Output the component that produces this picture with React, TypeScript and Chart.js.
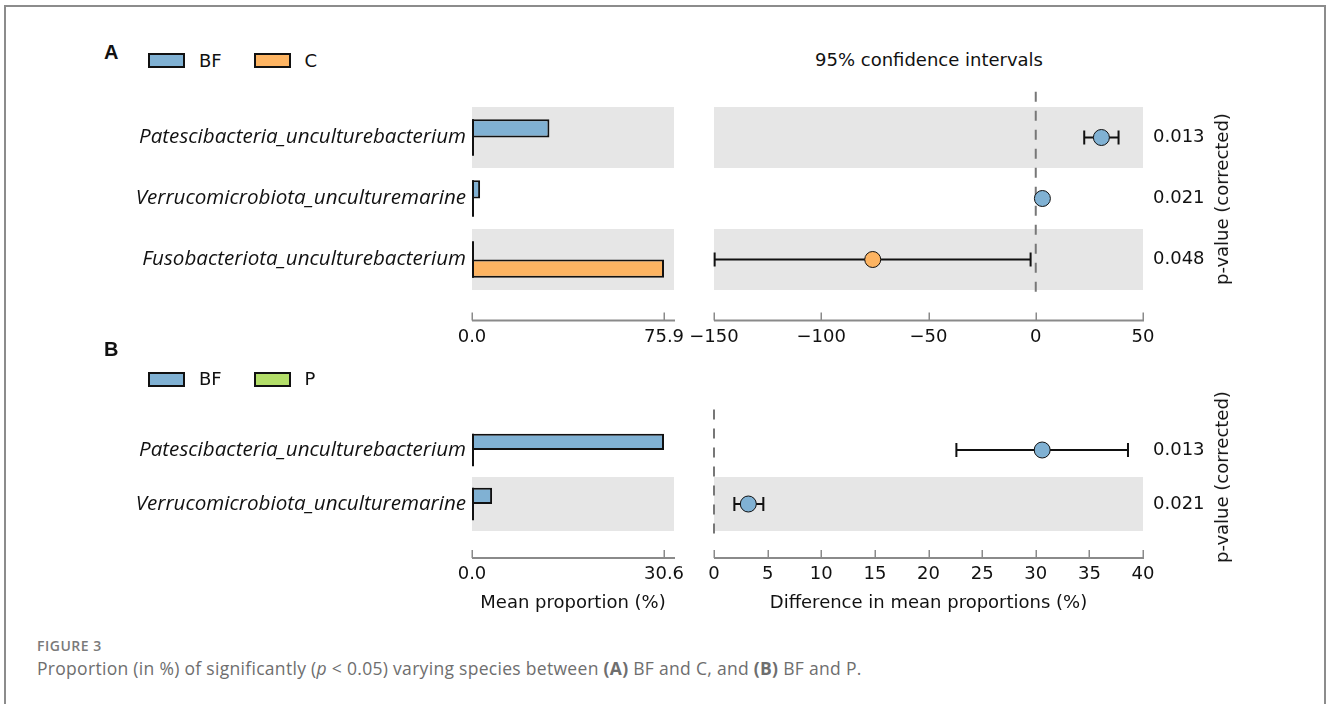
import React, { useEffect, useRef } from 'react';
import { Chart, registerables } from 'chart.js';

Chart.register(...registerables);

// ---------------- data ----------------
const groupsA = ['BF', 'C'];
const groupsB = ['BF', 'P'];

const speciesA = [
  'Patescibacteria_unculturebacterium',
  'Verrucomicrobiota_unculturemarine',
  'Fusobacteriota_unculturebacterium',
];
const meanBF_A = [30.6, 3.2, 0.04];
const meanC_A = [0.03, 0.02, 75.9];
const diffA = [30.6, 3.1, -76.0];
const ciLowA = [22.6, 1.9, -149.7];
const ciHighA = [38.6, 4.6, -2.4];
const pValuesA = ['0.013', '0.021', '0.048'];
const diffRangeA = [-150, 50];
const diffStepA = 50;

const speciesB = [
  'Patescibacteria_unculturebacterium',
  'Verrucomicrobiota_unculturemarine',
];
const meanBF_B = [30.6, 3.2];
const meanP_B = [0.03, 0.02];
const diffB = [30.6, 3.2];
const ciLowB = [22.6, 1.9];
const ciHighB = [38.6, 4.6];
const pValuesB = ['0.013', '0.021'];
const diffRangeB = [0, 40];
const diffStepB = 5;

// ---------------- styles ----------------
const COLORS: Record<string, string> = { BF: '#80b1d3', C: '#fdb462', P: '#b3de69' };
const BAND = '#e6e6e6';
const AXIS = '#8a8a8a';
const INK = '#111111';
const TICK_FONT = { family: "'DejaVu Sans'", size: 18 };
const LABEL_FONT = { family: "'Open Sans'", size: 20.6, style: 'italic' as const };

type Rect = { x: number; y: number; w: number; h: number };
type Area = { left: number; right: number; top: number; bottom: number };

const fmtMinus = (v: any) => {
  const n = Number(v);
  return n < 0 ? '\u2212' + Math.abs(n) : String(n);
};

function rowHeight(chart: any) {
  const a = chart.chartArea;
  const n = chart.scales.y.getLabels().length;
  return (a.bottom - a.top) / n;
}

const bandPlugin = {
  id: 'bands',
  beforeDatasetsDraw(chart: any) {
    const { ctx, chartArea: a, scales } = chart;
    const n = scales.y.getLabels().length;
    const rh = rowHeight(chart);
    ctx.save();
    ctx.fillStyle = BAND;
    for (let i = 0; i < n; i++) {
      if ((n - 1 - i) % 2 === 0) {
        const c = scales.y.getPixelForValue(i);
        ctx.fillRect(a.left, c - rh / 2, a.right - a.left, rh);
      }
    }
    ctx.restore();
  },
};

const offsetAxisPlugin = {
  id: 'offsetAxis',
  afterDraw(chart: any) {
    const { ctx, chartArea: a, scales } = chart;
    const yAx = a.bottom + rowHeight(chart) / 2;
    ctx.save();
    ctx.strokeStyle = AXIS;
    ctx.lineWidth = 2;
    ctx.beginPath();
    ctx.moveTo(a.left, yAx);
    ctx.lineTo(a.right + 1, yAx);
    ctx.stroke();
    ctx.lineWidth = 1.5;
    ctx.beginPath();
    scales.x.ticks.forEach((t: any) => {
      const x = Math.round(scales.x.getPixelForValue(t.value)) + 0.25;
      ctx.moveTo(x, yAx);
      ctx.lineTo(x, yAx - 8);
    });
    ctx.stroke();
    ctx.restore();
  },
};

const barBasePlugin = {
  id: 'barBase',
  afterDatasetsDraw(chart: any) {
    const { ctx } = chart;
    ctx.save();
    ctx.strokeStyle = INK;
    ctx.lineWidth = 2;
    ctx.beginPath();
    chart.data.datasets.forEach((_: any, di: number) => {
      chart.getDatasetMeta(di).data.forEach((el: any) => {
        const { base, y, height } = el.getProps(['base', 'y', 'height'], true);
        ctx.moveTo(base + 1, y - height / 2);
        ctx.lineTo(base + 1, y + height / 2);
      });
    });
    ctx.stroke();
    ctx.restore();
  },
};

function ciPlugin(lo: number[], hi: number[]) {
  return {
    id: 'ci',
    beforeDatasetsDraw(chart: any) {
      const { ctx, chartArea: a, scales } = chart;
      const rh = rowHeight(chart);
      // dashed zero line
      const x0 = scales.x.getPixelForValue(0);
      ctx.save();
      ctx.strokeStyle = '#777777';
      ctx.lineWidth = 2;
      ctx.setLineDash([10, 9]);
      ctx.beginPath();
      ctx.moveTo(x0, a.top - rh / 4);
      ctx.lineTo(x0, a.bottom + 3);
      ctx.stroke();
      ctx.setLineDash([]);
      // error bars
      ctx.strokeStyle = INK;
      ctx.lineWidth = 2;
      ctx.beginPath();
      lo.forEach((l, i) => {
        const y = scales.y.getPixelForValue(i);
        const xl = scales.x.getPixelForValue(l);
        const xh = scales.x.getPixelForValue(hi[i]);
        ctx.moveTo(xl, y);
        ctx.lineTo(xh, y);
        ctx.moveTo(xl, y - 7);
        ctx.lineTo(xl, y + 7);
        ctx.moveTo(xh, y - 7);
        ctx.lineTo(xh, y + 7);
      });
      ctx.stroke();
      ctx.restore();
    },
  };
}

function barConfig(
  labels: string[],
  groups: string[],
  series: number[][],
  canvas: Rect,
  area: Area,
  title?: string
) {
  const maxVal = Math.max(...series.flat());
  const rh = (area.bottom - area.top) / labels.length;
  return {
    type: 'bar',
    data: {
      labels,
      datasets: series.map((d, i) => ({
        label: groups[i],
        data: d,
        backgroundColor: COLORS[groups[i]],
        borderColor: INK,
        borderWidth: 2,
        borderSkipped: false,
        categoryPercentage: 0.6,
        barPercentage: 1,
      })),
    },
    options: {
      indexAxis: 'y',
      animation: false,
      responsive: false,
      events: [],
      layout: {
        padding: {
          left: 0,
          top: area.top - canvas.y,
          right: canvas.x + canvas.w - area.right,
          bottom: 0,
        },
      },
      plugins: { legend: { display: false }, tooltip: { enabled: false } },
      scales: {
        x: {
          type: 'linear',
          min: 0,
          max: maxVal * 1.052,
          grid: { display: false, drawTicks: true, tickLength: rh / 2 + 4 },
          border: { display: false },
          afterBuildTicks: (s: any) => {
            s.ticks = [0, maxVal].map((v) => ({ value: v }));
          },
          ticks: {
            padding: 2,
            color: INK,
            font: TICK_FONT,
            maxRotation: 0,
            autoSkip: false,
            callback: (v: any) => Number(v).toFixed(1),
          },
          title: {
            display: !!title,
            text: title || '',
            color: INK,
            font: TICK_FONT,
            padding: { top: 0, bottom: 6 },
          },
          afterFit: (s: any) => {
            s.height = canvas.y + canvas.h - area.bottom;
          },
        },
        y: {
          type: 'category',
          grid: { display: false, drawTicks: false },
          border: { display: false },
          ticks: { padding: 6, color: INK, font: LABEL_FONT, autoSkip: false },
          afterFit: (s: any) => {
            s.width = area.left - canvas.x;
          },
        },
      },
    },
    plugins: [bandPlugin, barBasePlugin, offsetAxisPlugin],
  };
}

function ciConfig(
  pvals: string[],
  groups: string[],
  diff: number[],
  lo: number[],
  hi: number[],
  range: number[],
  step: number,
  canvas: Rect,
  area: Area,
  title?: string
) {
  const rh = (area.bottom - area.top) / pvals.length;
  return {
    type: 'scatter',
    data: {
      datasets: [
        {
          data: diff.map((d, i) => ({ x: d, y: pvals[i] })),
          pointRadius: 8,
          pointHoverRadius: 8,
          pointBackgroundColor: diff.map((d) => (d >= 0 ? COLORS[groups[0]] : COLORS[groups[1]])),
          pointBorderColor: INK,
          pointBorderWidth: 1,
          clip: false,
        },
      ],
    },
    options: {
      animation: false,
      responsive: false,
      events: [],
      layout: {
        padding: { left: area.left - canvas.x, top: area.top - canvas.y, right: 0, bottom: 0 },
      },
      plugins: { legend: { display: false }, tooltip: { enabled: false } },
      scales: {
        x: {
          type: 'linear',
          min: range[0],
          max: range[1],
          grid: { display: false, drawTicks: true, tickLength: rh / 2 + 4 },
          border: { display: false },
          ticks: {
            stepSize: step,
            padding: 2,
            color: INK,
            font: TICK_FONT,
            maxRotation: 0,
            autoSkip: false,
            callback: fmtMinus,
          },
          title: {
            display: !!title,
            text: title || '',
            color: INK,
            font: TICK_FONT,
            padding: { top: 0, bottom: 6 },
          },
          afterFit: (s: any) => {
            s.height = canvas.y + canvas.h - area.bottom;
          },
        },
        y: {
          type: 'category',
          labels: pvals,
          position: 'right',
          offset: true,
          grid: { display: false, drawTicks: false },
          border: { display: false },
          ticks: { padding: 10, color: INK, font: TICK_FONT, autoSkip: false },
          afterFit: (s: any) => {
            s.width = canvas.x + canvas.w - area.right;
          },
        },
      },
    },
    plugins: [bandPlugin, ciPlugin(lo, hi), offsetAxisPlugin],
  };
}

function ChartBox({ rect, make }: { rect: Rect; make: () => any }) {
  const ref = useRef<HTMLCanvasElement>(null);
  useEffect(() => {
    const chart = new Chart(ref.current as HTMLCanvasElement, make());
    return () => chart.destroy();
  }, []);
  return (
    <canvas
      ref={ref}
      width={rect.w}
      height={rect.h}
      style={{ position: 'absolute', left: rect.x, top: rect.y, width: rect.w, height: rect.h }}
    />
  );
}

function Txt({
  x,
  y,
  anchor = 'start',
  style,
  children,
}: {
  x: number;
  y: number;
  anchor?: 'start' | 'middle' | 'end';
  style?: React.CSSProperties;
  children: React.ReactNode;
}) {
  const tx = anchor === 'middle' ? '-50%' : anchor === 'end' ? '-100%' : '0';
  return (
    <div
      style={{
        position: 'absolute',
        left: x,
        top: y,
        transform: `translate(${tx}, -50%)`,
        whiteSpace: 'nowrap',
        lineHeight: 1,
        fontFamily: "'DejaVu Sans'",
        fontSize: 18,
        color: INK,
        ...style,
      }}
    >
      {children}
    </div>
  );
}

function Legend({ y, groups }: { y: number; groups: string[] }) {
  return (
    <>
      {groups.map((g, i) => (
        <React.Fragment key={g}>
          <div
            style={{
              position: 'absolute',
              left: 148 + i * 105.5,
              top: y - 7.5,
              width: 37,
              height: 15,
              boxSizing: 'border-box',
              border: `2px solid ${INK}`,
              background: COLORS[g],
            }}
          />
          <Txt x={199 + i * 105.5} y={y}>
            {g}
          </Txt>
        </React.Fragment>
      ))}
    </>
  );
}

const rotTitle: React.CSSProperties = {
  position: 'absolute',
  left: 1222,
  whiteSpace: 'nowrap',
  lineHeight: 1,
  fontFamily: "'DejaVu Sans'",
  fontSize: 18,
  color: INK,
};

export default function App() {
  const areaA_L: Area = { left: 472, right: 674, top: 107, bottom: 290 };
  const areaA_R: Area = { left: 714, right: 1143, top: 107, bottom: 290 };
  const areaB_L: Area = { left: 472, right: 674, top: 423, bottom: 531 };
  const areaB_R: Area = { left: 714, right: 1143, top: 423, bottom: 531 };
  const cA_L: Rect = { x: 90, y: 80, w: 610, h: 290 };
  const cA_R: Rect = { x: 660, y: 75, w: 580, h: 295 };
  const cB_L: Rect = { x: 90, y: 396, w: 610, h: 224 };
  const cB_R: Rect = { x: 660, y: 395, w: 580, h: 225 };

  return (
    <div
      style={{
        position: 'fixed',
        left: 0,
        top: 0,
        width: 1328,
        height: 704,
        overflow: 'hidden',
        background: '#ffffff',
      }}
    >
      <div
        style={{
          position: 'absolute',
          left: 4,
          top: 5,
          width: 1322,
          height: 720,
          boxSizing: 'border-box',
          border: '2px solid #8c8c8c',
        }}
      />

      {/* Panel A */}
      <Txt x={104} y={52} style={{ fontFamily: "'Liberation Sans'", fontWeight: 700, fontSize: 20 }}>
        A
      </Txt>
      <Legend y={60.5} groups={groupsA} />
      <Txt x={929} y={60} anchor="middle">
        95% confidence intervals
      </Txt>
      <ChartBox
        rect={cA_L}
        make={() => barConfig(speciesA, groupsA, [meanBF_A, meanC_A], cA_L, areaA_L)}
      />
      <ChartBox
        rect={cA_R}
        make={() =>
          ciConfig(pValuesA, groupsA, diffA, ciLowA, ciHighA, diffRangeA, diffStepA, cA_R, areaA_R)
        }
      />
      <div style={{ ...rotTitle, top: 198.5, transform: 'translate(-50%, -50%) rotate(-90deg)' }}>
        p-value (corrected)
      </div>

      {/* Panel B */}
      <Txt x={104} y={349} style={{ fontFamily: "'Liberation Sans'", fontWeight: 700, fontSize: 20 }}>
        B
      </Txt>
      <Legend y={379} groups={groupsB} />
      <ChartBox
        rect={cB_L}
        make={() =>
          barConfig(speciesB, groupsB, [meanBF_B, meanP_B], cB_L, areaB_L, 'Mean proportion (%)')
        }
      />
      <ChartBox
        rect={cB_R}
        make={() =>
          ciConfig(
            pValuesB,
            groupsB,
            diffB,
            ciLowB,
            ciHighB,
            diffRangeB,
            diffStepB,
            cB_R,
            areaB_R,
            'Difference in mean proportions (%)'
          )
        }
      />
      <div style={{ ...rotTitle, top: 477, transform: 'translate(-50%, -50%) rotate(-90deg)' }}>
        p-value (corrected)
      </div>

      {/* Caption */}
      <Txt
        x={37}
        y={646}
        style={{
          fontFamily: "'Open Sans'",
          fontWeight: 600,
          fontSize: 14,
          letterSpacing: 0.5,
          color: '#7a7a7a',
        }}
      >
        FIGURE 3
      </Txt>
      <Txt
        x={37}
        y={669}
        style={{ fontFamily: "'Open Sans'", fontSize: 17.5, letterSpacing: 0.3, color: '#6e6e6e' }}
      >
        Proportion (in %) of significantly (<i>p</i> &lt; 0.05) varying species between{' '}
        <b>(A)</b> BF and C, and <b>(B)</b> BF and P.
      </Txt>
    </div>
  );
}
